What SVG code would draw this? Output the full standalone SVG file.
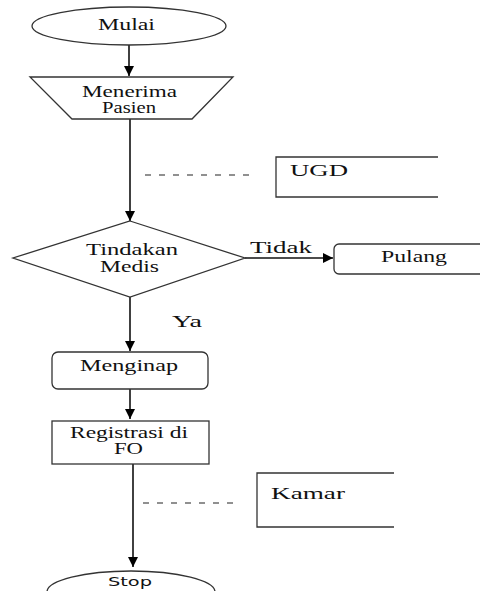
<svg xmlns="http://www.w3.org/2000/svg" width="480" height="591" viewBox="0 0 480 591">
<defs>
<marker id="ah" viewBox="0 0 10 10" refX="10" refY="5" markerWidth="10" markerHeight="10" markerUnits="userSpaceOnUse" orient="auto">
<path d="M0,0 L10,5 L0,10 z" fill="#000"/>
</marker>
<style>
.s{fill:#fff;stroke:#333;stroke-width:1.3}
.t{font-family:"Liberation Serif",serif;font-size:16px;fill:#111}
.c{stroke:#111;stroke-width:1.6;fill:none}
.d{stroke:#222;stroke-width:1.2;stroke-dasharray:6,8;fill:none}
</style>
</defs>
<rect width="480" height="591" fill="#fff"/>
<g id="connectors">
<line class="c" x1="129" y1="44" x2="129" y2="76" marker-end="url(#ah)"/>
<line class="c" x1="130" y1="119" x2="130" y2="221" marker-end="url(#ah)"/>
<line class="d" x1="145" y1="175" x2="252" y2="175"/>
<line class="c" x1="245" y1="258" x2="333" y2="258" marker-end="url(#ah)"/>
<line class="c" x1="130" y1="297" x2="130" y2="351" marker-end="url(#ah)"/>
<line class="c" x1="130" y1="389" x2="130" y2="419" marker-end="url(#ah)"/>
<line class="c" x1="133" y1="464" x2="133" y2="567" marker-end="url(#ah)"/>
<line class="d" x1="143" y1="503" x2="240" y2="503"/>
<text class="t" x="250" y="253" textLength="62" lengthAdjust="spacingAndGlyphs">Tidak</text>
<text class="t" x="172" y="327" textLength="30" lengthAdjust="spacingAndGlyphs">Ya</text>
</g>
<g id="mulai">
<ellipse class="s" cx="129" cy="26" rx="97" ry="19"/>
<text class="t" x="98" y="30" textLength="57" lengthAdjust="spacingAndGlyphs">Mulai</text>
</g>
<g id="menerima">
<polygon class="s" points="30,77 233,77 192,119 72,119"/>
<text class="t" x="82" y="97" textLength="95" lengthAdjust="spacingAndGlyphs">Menerima</text>
<text class="t" x="102" y="113" textLength="54" lengthAdjust="spacingAndGlyphs">Pasien</text>
</g>
<g id="ugd">
<path class="s" d="M438,157 H276 V197 H438"/>
<text class="t" x="290" y="176" textLength="58" lengthAdjust="spacingAndGlyphs">UGD</text>
</g>
<g id="tindakan">
<polygon class="s" points="130,221 245,258 130,297 13,258"/>
<text class="t" x="86" y="255" textLength="92" lengthAdjust="spacingAndGlyphs">Tindakan</text>
<text class="t" x="100" y="272" textLength="59" lengthAdjust="spacingAndGlyphs">Medis</text>
</g>
<g id="pulang">
<rect class="s" x="334" y="244" width="160" height="30" rx="5"/>
<text class="t" x="381" y="262" textLength="66" lengthAdjust="spacingAndGlyphs">Pulang</text>
</g>
<g id="menginap">
<rect class="s" x="52" y="352" width="156" height="37" rx="6"/>
<text class="t" x="80" y="371" textLength="98" lengthAdjust="spacingAndGlyphs">Menginap</text>
</g>
<g id="registrasi">
<rect class="s" x="52" y="421" width="157" height="43"/>
<text class="t" x="70" y="438" textLength="118" lengthAdjust="spacingAndGlyphs">Registrasi di</text>
<text class="t" x="114" y="454" textLength="29" lengthAdjust="spacingAndGlyphs">FO</text>
</g>
<g id="kamar">
<path class="s" d="M394,473 H257 V527 H394"/>
<text class="t" x="271" y="499" textLength="74" lengthAdjust="spacingAndGlyphs">Kamar</text>
</g>
<g id="stop">
<ellipse class="s" cx="131" cy="592" rx="84" ry="21"/>
<text x="108" y="586" font-family="DejaVu Sans, sans-serif" font-size="13" fill="#111" textLength="44" lengthAdjust="spacingAndGlyphs">Stop</text>
</g>
</svg>
